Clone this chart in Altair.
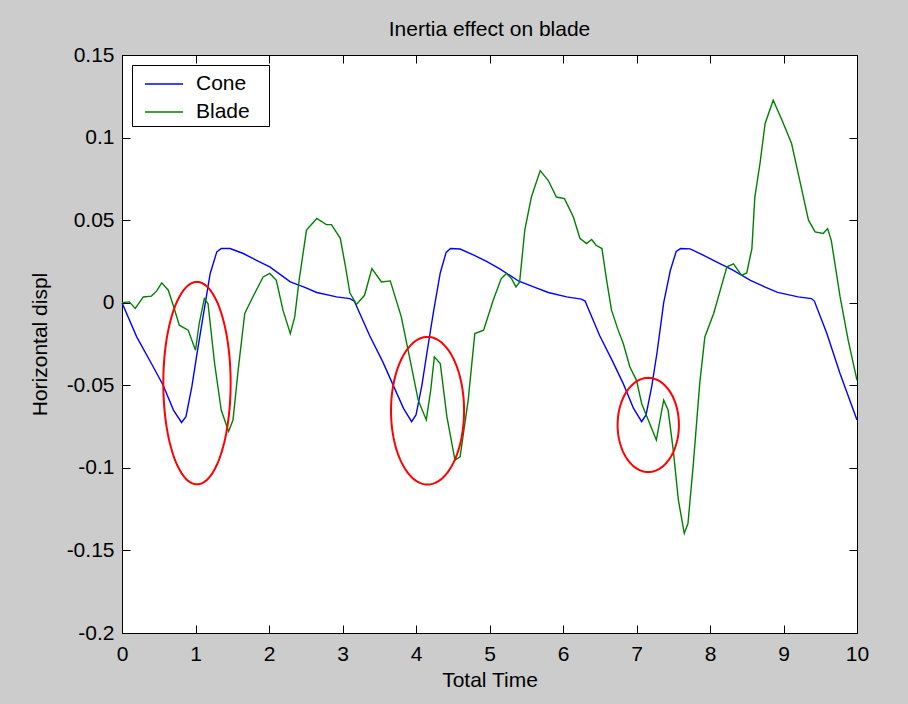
import altair as alt
import numpy as np
import pandas as pd

# ---- data ----
cone_t = [0, 0.2, 0.4, 0.56, 0.7, 0.81, 0.87, 0.95, 1.02, 1.11, 1.2, 1.29, 1.35, 1.47,
          1.65, 1.83, 2.01, 2.29, 2.47, 2.65, 2.92, 3.1,
          3.16, 3.37, 3.55, 3.68, 3.83, 3.94, 4.0, 4.08, 4.15, 4.24, 4.33, 4.41, 4.47, 4.6,
          4.78, 4.96, 5.14, 5.4, 5.6, 5.8, 6.05, 6.25,
          6.3, 6.5, 6.68, 6.82, 6.96, 7.07, 7.13, 7.21, 7.28, 7.37, 7.46, 7.54, 7.6, 7.73,
          7.9, 8.1, 8.3, 8.55, 8.75, 8.92, 9.2, 9.38,
          9.42, 9.59, 9.77, 10.0]
cone_y = [0, -0.0207, -0.0368, -0.05, -0.065, -0.0725, -0.069, -0.051, -0.031, -0.0065, 0.0177, 0.0308, 0.0328, 0.0328,
          0.0298, 0.0257, 0.0217, 0.0126, 0.0096, 0.0062, 0.0035, 0.0025,
          0.001, -0.02, -0.036, -0.049, -0.064, -0.072, -0.068, -0.05, -0.03, -0.005, 0.018, 0.0305, 0.0328, 0.0325,
          0.029, 0.025, 0.0205, 0.013, 0.0096, 0.0062, 0.0035, 0.0022,
          0.001, -0.02, -0.036, -0.049, -0.064, -0.072, -0.068, -0.05, -0.03, 0.0, 0.0195, 0.031, 0.0328, 0.0326,
          0.029, 0.0245, 0.02, 0.0135, 0.0095, 0.0063, 0.0035, 0.0025,
          0.001, -0.0187, -0.043, -0.071]

blade_t = [0, 0.1, 0.18, 0.29, 0.4, 0.47, 0.54, 0.63, 0.7, 0.78, 0.9, 1.0, 1.05, 1.12, 1.17, 1.26,
           1.35, 1.45, 1.51, 1.58, 1.67, 1.78, 1.92, 2.01, 2.1, 2.19, 2.29, 2.35, 2.41, 2.51, 2.65,
           2.78, 2.85, 2.97, 3.04, 3.1, 3.19, 3.3, 3.4, 3.53, 3.65, 3.8, 3.92, 4.03, 4.14, 4.2,
           4.25, 4.33, 4.42, 4.53, 4.6, 4.71, 4.8, 4.92, 5.05, 5.16, 5.23, 5.3, 5.36, 5.41, 5.48,
           5.57, 5.69, 5.8, 5.91, 6.02, 6.14, 6.23, 6.32, 6.39, 6.45, 6.53, 6.59, 6.66, 6.75, 6.82,
           6.91, 7.0, 7.07, 7.16, 7.27, 7.32, 7.37, 7.43, 7.5, 7.57, 7.65, 7.7, 7.77, 7.86, 7.93,
           8.05, 8.14, 8.23, 8.32, 8.43, 8.5, 8.57, 8.61, 8.68, 8.75, 8.86, 8.98, 9.11, 9.22, 9.34,
           9.43, 9.54, 9.6, 9.65, 9.77, 9.88, 10.0]
blade_y = [0, 0.0005, -0.0035, 0.0035, 0.004, 0.007, 0.012, 0.0076, -0.002, -0.0136, -0.0166, -0.0288, -0.0126, 0.0025, -0.0005, -0.0368,
           -0.065, -0.078, -0.071, -0.041, -0.0065, 0.0035, 0.0156, 0.0177, 0.0136, -0.0045, -0.0187, -0.0086, 0.0136, 0.044, 0.051,
           0.0473, 0.0473, 0.039, 0.022, 0.006, -0.001, 0.0045, 0.0207, 0.0126, 0.0132, -0.0086, -0.0348, -0.059, -0.071, -0.053,
           -0.0328, -0.0368, -0.069, -0.0953, -0.0933, -0.059, -0.0187, -0.0166, 0.0015, 0.0146, 0.0177, 0.0146, 0.0096, 0.0126, 0.0439,
           0.064, 0.08, 0.074, 0.064, 0.063, 0.052, 0.039, 0.0358, 0.0383, 0.0348, 0.0328, 0.0146, -0.0045, -0.0166, -0.0247,
           -0.0389, -0.047, -0.061, -0.071, -0.0832, -0.071, -0.059, -0.065, -0.0893, -0.1196, -0.1397, -0.1337, -0.0994, -0.049, -0.0207,
           -0.0065, 0.0076, 0.0217, 0.0235, 0.0166, 0.018, 0.0328, 0.064, 0.0843, 0.1085, 0.1226, 0.1105, 0.0964, 0.0742, 0.05,
           0.0429, 0.0419, 0.0449, 0.0378, 0.0035, -0.0227, -0.047]

series_names = ["Cone", "Blade"]
series_colors = ["#0000ff", "#008000"]

x_ticks = [0, 1, 2, 3, 4, 5, 6, 7, 8, 9, 10]
y_ticks = [-0.2, -0.15, -0.1, -0.05, 0, 0.05, 0.1, 0.15]

# red annotation ellipses: centre and radii in data units
ell_cx = [1.02, 4.157, 7.16]
ell_cy = [-0.0487, -0.0654, -0.074]
ell_rx = [0.458, 0.497, 0.417]
ell_ry = [0.0613, 0.0447, 0.0285]

# ---- tables ----
lines = pd.DataFrame({
    "t": cone_t + blade_t,
    "v": cone_y + blade_y,
    "series": ["Cone"] * len(cone_t) + ["Blade"] * len(blade_t),
    "i": list(range(len(cone_t))) + list(range(len(blade_t))),
})

ang = np.linspace(0, 2 * np.pi, 121)
rows = []
for k in range(len(ell_cx)):
    for j, a in enumerate(ang):
        rows.append({"t": ell_cx[k] + ell_rx[k] * np.cos(a),
                     "v": ell_cy[k] + ell_ry[k] * np.sin(a),
                     "e": k, "i": j})
ell = pd.DataFrame(rows)

W, H = 735, 578
FONT = "Liberation Sans"
FS = 21
xs = alt.Scale(domain=[0, 10], nice=False, zero=False)
ys = alt.Scale(domain=[-0.2, 0.15], nice=False, zero=False)
minus_fix = "replace(datum.label, '\u2212', '-')"

tick_common = dict(labels=False, domain=False, grid=False, ticks=True, tickSize=8,
                   tickColor="black", tickWidth=1, title=None)

main = alt.Chart(lines).mark_line(strokeWidth=1.4).encode(
    x=alt.X("t:Q", scale=xs, axis=alt.Axis(
        orient="bottom", values=x_ticks, format="d", ticks=False, tickSize=0, domain=False,
        grid=False, labelPadding=10, labelFontSize=FS, labelFont=FONT, labelColor="black",
        labelFlush=False, title="Total Time", titleFont=FONT, titleFontSize=FS,
        titleFontWeight="normal", titleColor="black", titlePadding=5)),
    y=alt.Y("v:Q", scale=ys, axis=alt.Axis(
        orient="left", values=y_ticks, format="~g", labelExpr=minus_fix, ticks=False,
        tickSize=0, domain=False, grid=False, labelPadding=8, labelFontSize=FS,
        labelFont=FONT, labelColor="black", labelFlush=False, title="Horizontal displ",
        titleFont=FONT, titleFontSize=FS, titleFontWeight="normal", titleColor="black",
        titlePadding=16)),
    color=alt.Color("series:N", scale=alt.Scale(domain=series_names, range=series_colors),
                    sort=series_names,
                    legend=alt.Legend(
                        title=None, orient="none", legendX=10, legendY=10, padding=4,
                        symbolType="M-1.357,0L1.357,0M7.0,0", symbolSize=784,
                        symbolStrokeWidth=1.5, symbolOffset=13, labelOffset=17,
                        rowPadding=3, labelFontSize=FS, labelFont=FONT,
                        labelColor="black", strokeColor="black", fillColor="white",
                        cornerRadius=0)),
    order="i:Q",
)

ellipses = alt.Chart(ell).mark_line(color="#ff0000", strokeWidth=2).encode(
    x=alt.X("t:Q", scale=xs, axis=alt.Axis(orient="top", offset=-H, values=x_ticks, **tick_common)),
    y=alt.Y("v:Q", scale=ys, axis=alt.Axis(orient="right", offset=-W, values=y_ticks, **tick_common)),
    detail="e:N",
    order="i:Q",
)

inner_ticks = alt.Chart(lines).mark_point(opacity=0).encode(
    x=alt.X("t:Q", scale=xs, axis=alt.Axis(orient="bottom", offset=-H, values=x_ticks, **tick_common)),
    y=alt.Y("v:Q", scale=ys, axis=alt.Axis(orient="left", offset=-W, values=y_ticks, **tick_common)),
)

chart = alt.layer(main, ellipses, inner_ticks).resolve_axis(
    x="independent", y="independent"
).properties(
    width=W, height=H,
    title=alt.TitleParams("Inertia effect on blade", fontSize=FS, font=FONT,
                          fontWeight="normal", color="black", anchor="middle",
                          frame="group", offset=4),
    background="#cccccc",
    padding={"left": 122, "top": 55, "right": 51, "bottom": 71},
    autosize=alt.AutoSizeParams(type="none"),
).configure_view(fill="white", stroke="black", strokeWidth=1)

chart.save("out.html", embed_options={"renderer": "svg", "actions": False})
